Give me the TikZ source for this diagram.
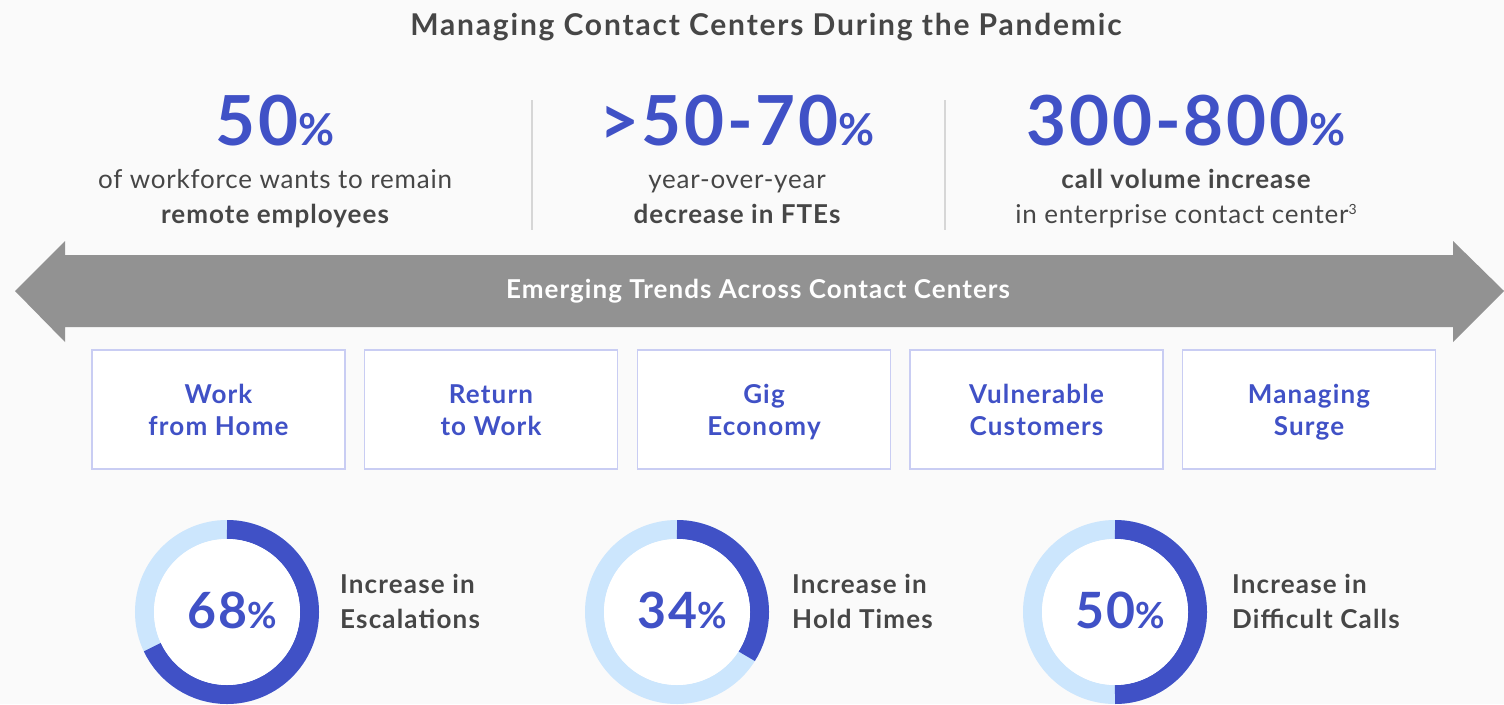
\documentclass[tikz,border=0pt]{standalone}
\usepackage{fontspec}
\setmainfont{Lato}
\definecolor{cblue}{HTML}{4051C6}
\definecolor{clight}{HTML}{CCE6FD}
\definecolor{cgray}{HTML}{464646}
\definecolor{carrow}{HTML}{929292}
\definecolor{cbox}{HTML}{C9CDF3}
\definecolor{cbg}{HTML}{FAFAFA}
\definecolor{cdiv}{HTML}{D6D6D6}
\newcommand{\ls}[1]{\addfontfeature{LetterSpace=#1}}
\newcommand{\bigpct}[1]{{\fontsize{69}{72}\selectfont\bfseries\ls{4}#1{\fontsize{44}{44}\selectfont\%}}}
\newcommand{\ringpct}[1]{{\fontsize{50}{52}\selectfont\bfseries\ls{5}#1{\fontsize{36}{36}\selectfont\%}}}
\newcommand{\bxs}{\rule[-6.5pt]{0pt}{32pt}}
\newcommand{\rls}{\rule[-10pt]{0pt}{35pt}}
\tikzset{
  title/.style={text=cgray,anchor=base,inner sep=0,font=\fontsize{30}{34}\selectfont\bfseries\ls{6}},
  bignum/.style={text=cblue,anchor=base,inner sep=0},
  subtxt/.style={text=cgray,anchor=base,inner sep=0,font=\fontsize{26}{30}\selectfont\ls{3}},
  subbold/.style={subtxt,font=\fontsize{26}{30}\selectfont\bfseries\ls{4}},
  trendbox/.style={draw=cbox,line width=1.2,fill=white,minimum width=253,minimum height=119,inner sep=0,align=center,text=cblue,font=\fontsize{26}{32}\selectfont\bfseries\ls{4.5}},
  ringnum/.style={text=cblue,anchor=base,inner sep=0},
  ringlbl/.style={text=cgray,anchor=west,inner sep=0,align=left,font=\fontsize{26}{35}\selectfont\bfseries\ls{4.5}},
  divider/.style={draw=cdiv,line width=1.5},
}
\begin{document}
\begin{tikzpicture}[x=1pt,y=-1pt]
\fill[cbg] (0,0) rectangle (1504,704);
\useasboundingbox (0,0) rectangle (1504,704);

\node[title] (title) at (766,35) {Managing Contact Centers During the Pandemic};

% dividers
\draw[divider] (532,100) -- (532,230);
\draw[divider] (945,100) -- (945,230);

% column 1
\node[bignum] (n1) at (275,145) {\bigpct{50}};
\node[subtxt] (s1a) at (275,188) {of workforce wants to remain};
\node[subbold] (s1b) at (275,223) {remote employees};
% column 2
\node[bignum] (n2) at (737,145) {\bigpct{>50-70}};
\node[subtxt] (s2a) at (737,188) {year-over-year};
\node[subbold] (s2b) at (737,223) {decrease in FTEs};
% column 3
\node[bignum] (n3) at (1186,145) {\bigpct{300-800}};
\node[subbold] (s3a) at (1186,188) {call volume increase};
\node[subtxt] (s3b) at (1186,223) {in enterprise contact center\raisebox{9pt}{\fontsize{14}{14}\selectfont 3}};

% double arrow
\fill[carrow] (15,291) -- (65,241) -- (65,255) -- (1453,255) -- (1453,241) -- (1504,291)
  -- (1453,342) -- (1453,327) -- (65,327) -- (65,342) -- cycle;
\node[text=white,font=\fontsize{26}{28}\selectfont\bfseries\ls{4}] (trend) at (758,291) {Emerging Trends Across Contact Centers};

% boxes
\node[trendbox] (b1) at (218.5,409.5) {\bxs Work\\\bxs from Home};
\node[trendbox] (b2) at (491,409.5) {\bxs Return\\\bxs to Work};
\node[trendbox] (b3) at (764,409.5) {\bxs Gig\\\bxs Economy};
\node[trendbox] (b4) at (1036.5,409.5) {\bxs Vulnerable\\\bxs Customers};
\node[trendbox] (b5) at (1309,409.5) {\bxs Managing\\\bxs Surge};

% rings
\foreach \cx/\ea/\nm/\la/\lb/\lx/\id in {227/154.8/68/Increase in/Escalations/340/a,
                                     677/32.4/34/Increase in/Hold Times/792/b,
                                     1115/90/50/Increase in/Difficult Calls/1232/c}{
  \coordinate (rc\id) at (\cx,612);
  \draw[clight,line width=19] (rc\id) circle (82.5);
  \draw[cblue,line width=19] ([shift={(-90:82.5)}]rc\id) arc[start angle=-90,end angle=\ea,radius=82.5];
  \fill[white] (rc\id) circle (73);
  \node[ringnum] (rn\id) at (\cx+5,628) {\ringpct{\nm}};
  \node[ringlbl] (rl\id) at (\lx,603) {\rls\la\\\rls\lb};
}
\end{tikzpicture}
\end{document}
